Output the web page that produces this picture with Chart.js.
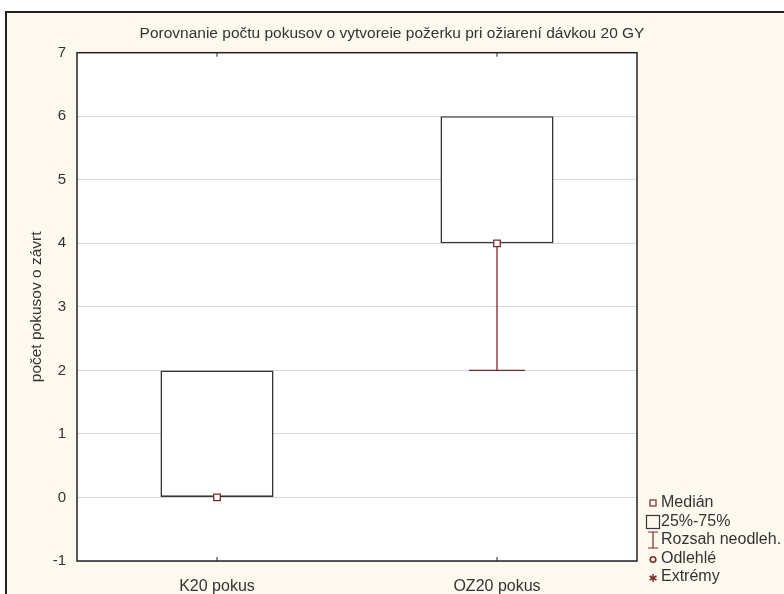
<!DOCTYPE html>
<html>
<head>
<meta charset="utf-8">
<script src="https://cdn.jsdelivr.net/npm/chart.js@4.4.1/dist/chart.umd.min.js"></script>
<style>
    body { margin: 0; background: #fff; }
    #wrap { position: relative; width: 784px; height: 594px; overflow: hidden; }
    #frame { position: absolute; left: 5px; top: 11px; width: 800px; height: 600px;
             border-left: 2px solid #222; border-top: 2px solid #222; background: #fdf9ee; }
    #chart { position: absolute; left: 0; top: 0; }
</style>
</head>
<body>
<div id="wrap">
    <div id="frame"></div>
    <canvas id="chart" width="784" height="594"></canvas>
</div>
<script>
// values
const categories = ['K20 pokus', 'OZ20 pokus'];
const minValues = [0, 2];
const q1Values = [0, 4];
const medianValues = [0, 4];
const q3Values = [2, 6];
const maxValues = [2, 6];
const yTicks = [-1, 0, 1, 2, 3, 4, 5, 6, 7];
const legendLabels = ['Medián', '25%-75%', 'Rozsah neodleh.', 'Odlehlé', 'Extrémy'];

const boxColor = '#3b3434';
const redColor = '#7d2a2a';
const textColor = '#333';
const fontFamily = '"Liberation Sans", Arial, sans-serif';

const boxExtras = {
    id: 'boxExtras',
    beforeDraw(chart) {
        const a = chart.chartArea;
        const ctx = chart.ctx;
        ctx.save();
        ctx.fillStyle = '#fff';
        ctx.fillRect(a.left, a.top, a.right - a.left, a.bottom - a.top);
        ctx.restore();
    },
    beforeDatasetsDraw(chart) {
        const ctx = chart.ctx;
        const x = chart.scales.x, y = chart.scales.y;
        const cat = x.getPixelForValue(1) - x.getPixelForValue(0);
        ctx.save();
        ctx.strokeStyle = redColor;
        ctx.lineWidth = 1.3;
        categories.forEach((c, i) => {
            const px = x.getPixelForValue(i);
            const half = cat * 0.1;
            // whisker stems
            [[minValues[i], q1Values[i]], [q3Values[i], maxValues[i]]].forEach(([a, b]) => {
                if (a === b) return;
                ctx.beginPath();
                ctx.moveTo(px, y.getPixelForValue(a));
                ctx.lineTo(px, y.getPixelForValue(b));
                ctx.stroke();
            });
            // caps
            [minValues[i], maxValues[i]].forEach((v, k) => {
                if (v === (k === 0 ? q1Values[i] : q3Values[i])) return;
                const py = y.getPixelForValue(v);
                ctx.beginPath();
                ctx.moveTo(px - half, py);
                ctx.lineTo(px + half, py);
                ctx.stroke();
            });
        });
        ctx.restore();
    },
    afterDraw(chart) {
        const ctx = chart.ctx;
        const a = chart.chartArea;
        const x = chart.scales.x;
        ctx.save();
        // plot frame
        ctx.strokeStyle = '#222';
        ctx.lineWidth = 1.5;
        ctx.strokeRect(a.left, a.top, a.right - a.left, a.bottom - a.top);
        // inner category ticks
        ctx.lineWidth = 1;
        categories.forEach((c, i) => {
            const px = x.getPixelForValue(i);
            ctx.beginPath();
            ctx.moveTo(px, a.bottom); ctx.lineTo(px, a.bottom - 4);
            ctx.moveTo(px, a.top); ctx.lineTo(px, a.top + 4);
            ctx.stroke();
        });

        // legend
        const sx = a.right + 16, tx = a.right + 24;
        const step = 18.5;
        const ly = a.bottom - 58;
        ctx.font = '16px ' + fontFamily;
        ctx.textBaseline = 'middle';
        legendLabels.forEach((label, i) => {
            const cy = ly + i * step;
            ctx.strokeStyle = redColor;
            ctx.lineWidth = 1.2;
            if (i === 0) {
                ctx.strokeRect(sx - 3, cy - 3, 6, 6);
            } else if (i === 1) {
                ctx.strokeStyle = boxColor;
                ctx.strokeRect(sx - 6.5, cy - 6, 13, 13);
            } else if (i === 2) {
                ctx.beginPath();
                ctx.moveTo(sx - 5, cy - 8); ctx.lineTo(sx + 5, cy - 8);
                ctx.moveTo(sx, cy - 8); ctx.lineTo(sx, cy + 8);
                ctx.moveTo(sx - 5, cy + 8); ctx.lineTo(sx + 5, cy + 8);
                ctx.stroke();
            } else if (i === 3) {
                ctx.lineWidth = 1.6;
                ctx.beginPath();
                ctx.arc(sx, cy + 1, 2.8, 0, Math.PI * 2);
                ctx.stroke();
            } else {
                ctx.lineWidth = 1.5;
                ctx.beginPath();
                for (let k = 0; k < 3; k++) {
                    const ang = Math.PI / 2 + k * Math.PI / 3;
                    ctx.moveTo(sx - Math.cos(ang) * 4, cy + 1 - Math.sin(ang) * 4);
                    ctx.lineTo(sx + Math.cos(ang) * 4, cy + 1 + Math.sin(ang) * 4);
                }
                ctx.stroke();
            }
            ctx.fillStyle = textColor;
            ctx.fillText(label, tx, cy);
        });
        ctx.restore();
    }
};

const ctx = document.getElementById('chart').getContext('2d');
new Chart(ctx, {
    type: 'bar',
    data: {
        labels: categories,
        datasets: [
            {
                type: 'line',
                label: 'Medián',
                data: medianValues,
                showLine: false,
                pointStyle: 'rect',
                pointRadius: 4.6,
                pointHoverRadius: 4.6,
                pointBorderColor: redColor,
                pointBackgroundColor: '#fff',
                pointBorderWidth: 1.3,
                order: 0
            },
            {
                label: '25%-75%',
                data: categories.map((c, i) => [q1Values[i], q3Values[i]]),
                backgroundColor: '#fff',
                borderColor: boxColor,
                borderWidth: 1.6,
                borderSkipped: false,
                categoryPercentage: 1,
                barPercentage: 0.404,
                order: 1
            }
        ]
    },
    options: {
        responsive: false,
        animation: false,
        devicePixelRatio: 1,
        layout: { padding: 0 },
        plugins: {
            legend: { display: false },
            tooltip: { enabled: false },
            title: {
                display: true,
                text: 'Porovnanie počtu pokusov o vytvoreie požerku pri ožiarení dávkou 20 GY',
                color: textColor,
                font: { family: fontFamily, size: 15.5, weight: 'normal' },
                padding: { top: 24.7, bottom: 9.4 }
            }
        },
        scales: {
            x: {
                grid: { display: false },
                border: { display: false },
                ticks: {
                    color: textColor,
                    padding: 8,
                    font: { family: fontFamily, size: 16 }
                },
                afterFit(s) { s.height = 33; }
            },
            y: {
                min: -1,
                max: 7,
                afterBuildTicks(s) { s.ticks = yTicks.map(v => ({ value: v })); },
                grid: { color: '#d6d6d6', lineWidth: 1, drawTicks: false },
                border: { display: false },
                ticks: {
                    color: textColor,
                    padding: 11,
                    font: { family: fontFamily, size: 15 }
                },
                title: {
                    display: true,
                    text: 'počet pokusov o závrt',
                    color: textColor,
                    font: { family: fontFamily, size: 15.5 },
                    padding: { top: 27, bottom: 0 }
                },
                afterFit(s) { s.width = 77; }
            },
            // empty right-hand strip that leaves room for the legend
            legendSpace: {
                type: 'linear',
                position: 'right',
                grid: { display: false },
                border: { display: false },
                ticks: { display: false },
                afterFit(s) { s.width = 147; }
            }
        }
    },
    plugins: [boxExtras]
});
</script>
</body>
</html>
